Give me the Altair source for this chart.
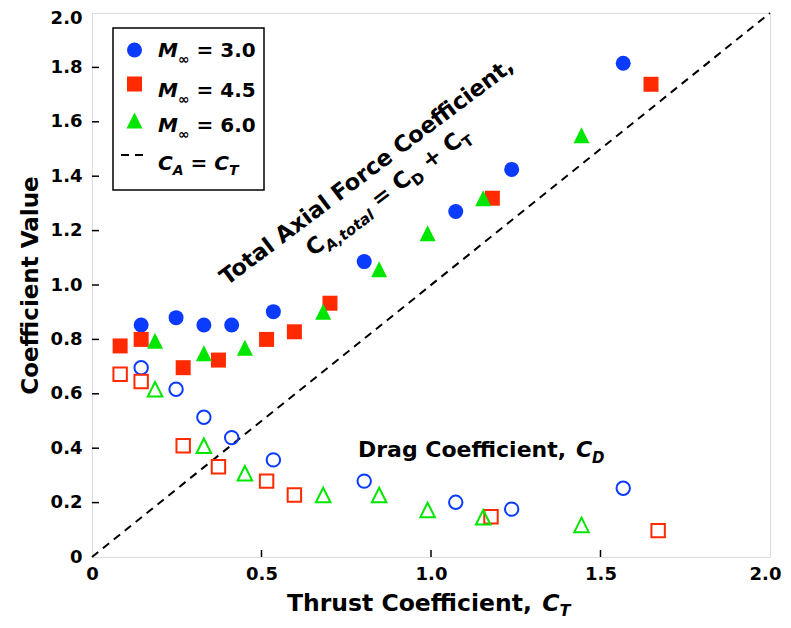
import math
import altair as alt
import pandas as pd

# ---------------- data ----------------
ct_m30 = [0.145, 0.248, 0.330, 0.412, 0.535, 0.803, 1.073, 1.238, 1.567]
ca_m30 = [0.853, 0.880, 0.853, 0.853, 0.902, 1.086, 1.270, 1.425, 1.815]
cd_m30 = [0.696, 0.617, 0.514, 0.439, 0.357, 0.279, 0.201, 0.176, 0.253]

ct_m45_total = [0.083, 0.145, 0.269, 0.373, 0.515, 0.597, 0.702, 1.181, 1.649]
ca_m45 = [0.776, 0.800, 0.696, 0.724, 0.800, 0.828, 0.933, 1.319, 1.738]
ct_m45_drag = [0.083, 0.145, 0.269, 0.373, 0.515, 0.597, 1.177, 1.670]
cd_m45 = [0.672, 0.645, 0.409, 0.332, 0.279, 0.228, 0.148, 0.097]

ct_m60 = [0.186, 0.330, 0.451, 0.682, 0.847, 0.990, 1.154, 1.444]
ca_m60 = [0.795, 0.749, 0.769, 0.902, 1.058, 1.190, 1.319, 1.551]
cd_m60 = [0.617, 0.409, 0.308, 0.228, 0.228, 0.173, 0.146, 0.118]

line_ct = [0.0, 2.0]
x_ticks = [0, 0.5, 1.0, 1.5, 2.0]
y_ticks = [0, 0.2, 0.4, 0.6, 0.8, 1.0, 1.2, 1.4, 1.6, 1.8, 2.0]

series_colors = ["#0a3bff", "#ff2a00", "#00e600"]
TRI = "M0,-1L-1,1L1,1Z"
series_shapes = ["circle", "square", TRI]

# ---------------- layout ----------------
W, H = 678, 544
FONT = "DejaVu Sans"

CW = {" ": .348, ",": .380, ".": .380, "=": .838, "+": .838, "∞": .838,
      "A": .774, "C": .734, "D": .830, "F": .683, "M": .995, "T": .682, "V": .774,
      "a": .675, "c": .593, "e": .678, "f": .435, "g": .716, "h": .712, "i": .343,
      "l": .343, "n": .712, "o": .687, "r": .493, "s": .595, "t": .478, "u": .712,
      "x": .663}
for d in "0123456789":
    CW[d] = .696


def tw(text, fs):
    return sum(CW.get(ch, .6) for ch in text) * fs


def run(x0, y0, parts, ang=0.0):
    th = math.radians(ang)
    ux, uy = math.cos(th), -math.sin(th)
    nx, ny = math.sin(th), math.cos(th)
    out = []
    adv = 0.0
    for text, fs, italic, shift in parts:
        lead = len(text) - len(text.lstrip(" "))
        adv += tw(" " * lead, fs)
        body = text.strip(" ")
        out.append(dict(t=body, fs=fs, it=italic,
                        x=x0 + ux * adv + nx * shift,
                        y=y0 + uy * adv + ny * shift,
                        a=(360 - ang) % 360))
        adv += tw(text.lstrip(" "), fs)
    return out


pieces = []
# rotated annotation
A1, A2, SUB = 22.5, 15, 6
pieces += run(135, 273, [("Total Axial Force Coefficient,", A1, False, 0)], 37)
pieces += run(221, 244, [("C", A1, False, 0), ("A,total", A2, True, SUB),
                         (" = C", A1, False, 0), ("D", A2, False, SUB),
                         (" + C", A1, False, 0), ("T", A2, False, SUB)], 37)
# drag annotation
pieces += run(266, 444, [("Drag Coefficient, ", 22, False, 0), ("C", 22, True, 0),
                         ("D", A2, True, SUB)])
# x title
pieces += run(195, 598, [("Thrust Coefficient, ", 23.5, False, 0), ("C", 23.5, True, 0),
                         ("T", 16, True, 5)])
# legend text
L1, L2 = 20, 14
leg_base = [44, 84, 119, 157]
for nm, yb in zip(["3.0", "4.5", "6.0"], leg_base[:3]):
    pieces += run(66, yb, [("M", L1, True, 0), ("∞", L2, False, 7),
                           (" = " + nm, L1, False, 0)])
pieces += run(66, leg_base[3], [("C", L1, True, 0), ("A", L2, True, 5),
                                 (" = ", L1, False, 0), ("C", L1, True, 0),
                                 ("T", L2, True, 5)])

# ---------------- chart ----------------
xsc = alt.Scale(domain=[0, 2], nice=False, zero=False)
ysc = alt.Scale(domain=[0, 2], nice=False, zero=False)
label_expr = "datum.value == 0 ? '0' : format(datum.value, '.1f')"

xaxis = alt.Axis(values=x_ticks, labelExpr=label_expr, ticks=False, domain=False,
                 grid=False, labelFont=FONT, labelFontWeight="bold",
                 labelFontSize=18, labelColor="black", labelPadding=8,
                 labelFlush=False, labelOverlap=False,
                 labelOffset={"condition": {"test": "datum.value == 2", "value": -5}, "value": 0},
                 title=" ")
yaxis = alt.Axis(values=y_ticks, labelExpr=label_expr, ticks=False, domain=False,
                 grid=False, labelFont=FONT, labelFontWeight="bold",
                 labelFontSize=18, labelColor="black", labelPadding=10,
                 labelBaseline="middle", labelFlush=False, labelOverlap=False,
                 labelOffset={"condition": {"test": "datum.value == 2", "value": 5}, "value": 0},
                 title="Coefficient Value", titleFont=FONT, titleFontWeight="bold",
                 titleFontSize=23, titleColor="black", titlePadding=8)


def X(field):
    return alt.X(field, scale=xsc, axis=xaxis)


def Y(field):
    return alt.Y(field, scale=ysc, axis=yaxis)


diag = alt.Chart(pd.DataFrame({"ct": line_ct, "v": line_ct})).mark_line(
    color="black", strokeWidth=2, strokeDash=[8, 6]
).encode(x=X("ct:Q"), y=Y("v:Q"))

xt = alt.Chart(pd.DataFrame({"ct": x_ticks[1:-1]})).mark_rule(
    color="black", strokeWidth=1.5
).encode(x=X("ct:Q"), y=alt.value(H), y2=alt.value(H - 7))
yt = alt.Chart(pd.DataFrame({"v": y_ticks[1:-1]})).mark_rule(
    color="black", strokeWidth=1.5
).encode(y=Y("v:Q"), x=alt.value(0), x2=alt.value(7))

series = [
    (ct_m30, ca_m30, ct_m30, cd_m30),
    (ct_m45_total, ca_m45, ct_m45_drag, cd_m45),
    (ct_m60, ca_m60, ct_m60, cd_m60),
]
marks = []
for (cta, ca, ctd, cd), col, shp in zip(series, series_colors, series_shapes):
    marks.append(alt.Chart(pd.DataFrame({"ct": cta, "v": ca})).mark_point(
        shape=shp, filled=True, color=col, opacity=1,
        size=256 if shp == TRI else 225
    ).encode(x=X("ct:Q"), y=Y("v:Q")))
for (cta, ca, ctd, cd), col, shp in zip(series, series_colors, series_shapes):
    marks.append(alt.Chart(pd.DataFrame({"ct": ctd, "v": cd})).mark_point(
        shape=shp, filled=False, color=col, strokeWidth=2, opacity=1,
        size=210 if shp == TRI else 180
    ).encode(x=X("ct:Q"), y=Y("v:Q")))

one = pd.DataFrame({"k": [0]})
leg_box = alt.Chart(one).mark_rect(fill="white", stroke="black", strokeWidth=1.5).encode(
    x=alt.value(21), x2=alt.value(172), y=alt.value(15), y2=alt.value(177))
leg_syms = []
for col, shp, yc in zip(series_colors, series_shapes, [37, 71, 107.5]):
    leg_syms.append(alt.Chart(one).mark_point(
        shape=shp, filled=True, color=col, opacity=1,
        size=256 if shp == TRI else 225
    ).encode(x=alt.value(42.5), y=alt.value(yc)))
leg_line = alt.Chart(one).mark_rule(color="black", strokeWidth=2, strokeDash=[8, 6]).encode(
    x=alt.value(29), x2=alt.value(52), y=alt.value(142))

texts = []
for p in pieces:
    texts.append(alt.Chart(pd.DataFrame({"t": [p["t"]]})).mark_text(
        font=FONT, fontWeight="bold", fontStyle="italic" if p["it"] else "normal",
        fontSize=p["fs"], align="left", baseline="alphabetic", angle=p["a"],
        color="black"
    ).encode(text="t:N", x=alt.value(p["x"]), y=alt.value(p["y"])))

chart = alt.layer(diag, xt, yt, *marks, leg_box, *leg_syms, leg_line, *texts).properties(
    width=W, height=H,
    autosize=alt.AutoSizeParams(type="none"),
    padding={"left": 84, "top": 5, "right": 13, "bottom": 62},
).configure_view(stroke="black", strokeWidth=1.5).configure(background="white")

chart.save("out.html", embed_options={"renderer": "svg", "actions": False})
